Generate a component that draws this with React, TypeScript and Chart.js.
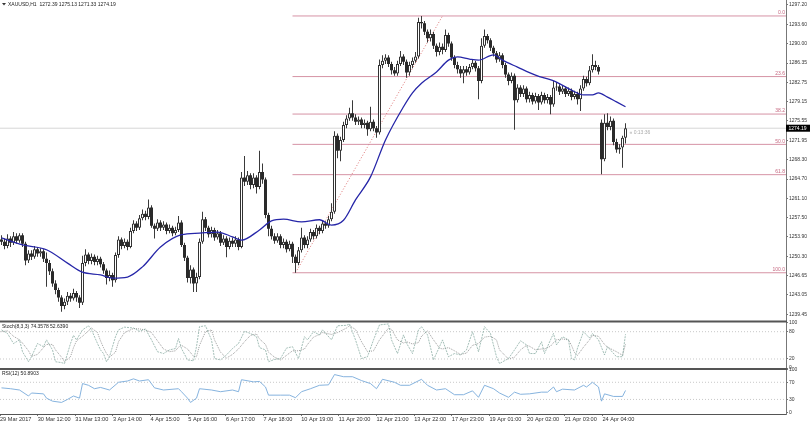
import { useEffect, useRef } from 'react';
import { Chart, registerables } from 'chart.js';
Chart.register(...registerables);

const symbolLabel = 'XAUUSD,H1';

const opens = [
  1253.4,1253.0,1252.2,1253.6,1252.8,1254.0,1253.2,1254.2,1252.6,1249.5,
  1250.8,1250.2,1251.6,1250.8,1251.2,1249.8,1249.0,1247.5,1245.2,1244.0,
  1242.6,1241.0,1241.8,1242.9,1242.4,1243.4,1242.6,1241.6,1249.0,1250.6,
  1249.4,1250.2,1249.2,1249.8,1248.8,1247.6,1246.2,1246.8,1245.8,1250.5,
  1253.4,1252.2,1253.0,1252.0,1255.0,1256.4,1255.6,1257.4,1258.2,1257.6,
  1259.4,1256.0,1255.4,1256.6,1255.6,1256.2,1255.0,1255.6,1254.6,1255.2,
  1256.6,1252.4,1250.0,1246.2,1247.8,1245.2,1246.4,1253.0,1257.2,1255.6,
  1254.4,1255.2,1253.8,1254.6,1252.8,1253.6,1252.0,1253.2,1252.6,1253.4,
  1252.0,1265.0,1264.2,1265.4,1263.6,1265.0,1263.2,1266.0,1264.6,1258.0,
  1255.4,1254.0,1253.2,1254.0,1252.4,1253.0,1251.6,1252.6,1250.2,1249.0,
  1251.4,1253.8,1252.4,1253.4,1254.8,1254.0,1255.6,1255.0,1256.4,1256.0,
  1257.2,1258.6,1272.8,1270.0,1272.0,1274.8,1276.0,1277.0,1276.2,1275.4,
  1275.8,1274.8,1275.2,1274.0,1275.4,1274.2,1273.4,1286.0,1286.8,1287.4,
  1286.2,1285.0,1284.4,1286.2,1287.6,1286.6,1284.6,1286.0,1286.8,1287.6,
  1294.0,1293.8,1292.2,1291.0,1291.8,1289.6,1288.4,1289.4,1288.8,1291.6,
  1290.0,1287.4,1286.0,1285.2,1284.4,1285.2,1284.6,1285.6,1286.4,1285.4,
  1283.0,1289.6,1291.4,1290.6,1289.2,1288.2,1287.0,1287.8,1286.0,1284.2,
  1283.0,1284.0,1279.4,1281.8,1280.6,1281.6,1279.6,1280.4,1279.2,1280.2,
  1279.0,1280.4,1279.4,1280.0,1278.6,1281.8,1282.0,1281.0,1281.6,1280.6,
  1281.2,1280.0,1280.6,1279.6,1281.6,1283.4,1282.6,1285.0,1286.0,1285.6,
  1275.2,1268.4,1275.2,1274.4,1275.6,1271.6,1270.2,1270.6,1272.39,
];

const highs = [
  1254.2,1253.6,1254.4,1254.0,1254.8,1254.6,1254.6,1254.6,1253.0,1251.4,
  1251.4,1252.2,1252.0,1251.8,1251.6,1251.0,1249.6,1248.0,1245.8,1244.4,
  1243.0,1242.4,1243.6,1243.4,1244.2,1243.8,1243.0,1250.4,1251.6,1251.0,
  1250.8,1250.6,1250.4,1250.2,1249.2,1248.0,1247.6,1247.2,1251.0,1254.0,
  1253.8,1253.6,1253.4,1255.6,1257.0,1256.8,1258.0,1259.0,1258.8,1260.9,
  1259.8,1256.4,1257.2,1257.0,1256.8,1256.6,1256.2,1256.0,1255.8,1257.8,
  1257.0,1252.8,1250.4,1248.6,1248.2,1247.2,1253.6,1258.6,1257.6,1256.0,
  1255.8,1255.6,1255.2,1255.0,1254.2,1254.0,1253.8,1253.8,1254.0,1253.8,
  1266.0,1269.0,1266.2,1265.8,1265.8,1265.4,1270.0,1267.6,1265.0,1258.4,
  1256.0,1254.6,1254.6,1254.4,1253.6,1253.4,1253.2,1253.0,1250.6,1252.0,
  1255.6,1254.2,1254.0,1255.4,1255.2,1256.2,1256.0,1257.0,1256.8,1257.8,
  1260.2,1273.6,1273.2,1272.6,1275.4,1276.6,1278.0,1279.4,1276.8,1276.4,
  1276.2,1275.8,1275.6,1278.2,1275.8,1274.6,1287.0,1287.8,1288.0,1287.8,
  1286.6,1285.6,1286.8,1288.6,1288.0,1287.0,1286.6,1287.4,1288.4,1294.8,
  1295.15,1294.2,1292.6,1292.6,1292.2,1290.0,1290.2,1290.0,1292.6,1292.0,
  1290.4,1287.8,1286.6,1285.8,1285.8,1285.8,1286.2,1287.0,1286.8,1285.8,
  1291.0,1292.6,1291.8,1291.0,1289.6,1288.6,1288.4,1288.2,1286.4,1284.6,
  1284.6,1284.4,1282.4,1282.2,1282.2,1282.0,1281.0,1280.8,1280.8,1280.6,
  1281.0,1280.8,1280.6,1280.4,1283.0,1282.8,1282.4,1282.2,1282.0,1281.8,
  1281.6,1281.2,1281.0,1282.2,1284.0,1283.8,1285.8,1288.0,1286.8,1286.0,
  1275.8,1276.8,1277.0,1276.4,1276.0,1272.2,1271.2,1272.8,1275.13,
];

const lows = [
  1252.4,1251.6,1251.8,1252.0,1252.4,1252.6,1252.8,1252.0,1248.6,1249.0,
  1249.6,1249.8,1250.2,1250.2,1249.2,1244.6,1246.8,1244.6,1243.2,1241.8,
  1239.9,1240.4,1241.2,1241.8,1242.0,1241.8,1240.6,1241.2,1248.4,1248.8,
  1248.8,1248.6,1248.6,1248.2,1247.0,1245.0,1245.6,1244.6,1245.4,1250.0,
  1251.6,1251.8,1251.4,1251.8,1254.6,1255.0,1255.2,1257.0,1257.0,1257.2,
  1255.6,1253.6,1255.0,1255.0,1255.2,1254.4,1254.6,1254.0,1254.2,1254.8,
  1252.0,1249.4,1245.4,1245.2,1243.6,1243.6,1246.0,1252.6,1255.0,1253.8,
  1253.8,1253.2,1253.4,1252.2,1252.4,1250.1,1251.6,1252.0,1252.0,1251.4,
  1251.8,1263.4,1263.6,1262.8,1263.0,1262.0,1262.8,1263.8,1257.4,1254.0,
  1253.4,1252.6,1252.8,1251.8,1251.8,1251.0,1251.2,1249.0,1247.2,1248.6,
  1251.0,1251.8,1251.8,1253.0,1253.4,1253.6,1254.4,1254.6,1255.4,1255.6,
  1256.8,1258.2,1268.6,1268.0,1271.6,1274.2,1275.6,1275.6,1274.8,1274.8,
  1274.2,1274.2,1272.8,1273.6,1273.6,1272.4,1273.0,1285.4,1286.2,1285.6,
  1284.2,1284.0,1284.0,1285.8,1286.0,1283.6,1284.0,1285.4,1286.4,1287.2,
  1292.8,1291.6,1290.2,1290.4,1289.0,1287.6,1287.8,1288.0,1288.4,1289.4,
  1286.8,1285.4,1284.4,1283.6,1282.6,1284.0,1284.2,1285.2,1284.8,1279.6,
  1282.6,1289.2,1290.0,1288.6,1287.6,1286.4,1286.6,1285.4,1283.6,1282.2,
  1282.6,1273.9,1279.0,1280.0,1280.0,1279.0,1279.0,1278.6,1278.8,1277.6,
  1278.6,1278.8,1278.8,1276.8,1278.2,1281.2,1280.4,1280.6,1280.0,1280.2,
  1279.4,1279.6,1278.6,1277.4,1281.2,1282.0,1282.2,1284.6,1285.0,1284.2,
  1265.6,1268.0,1273.8,1273.8,1271.0,1269.6,1269.4,1266.8,1271.33,
];

const closes = [
  1253.0,1252.2,1253.6,1252.8,1254.0,1253.2,1254.2,1252.6,1249.5,1250.8,
  1250.2,1251.6,1250.8,1251.2,1249.8,1249.0,1247.5,1245.2,1244.0,1242.6,
  1241.0,1241.8,1242.9,1242.4,1243.4,1242.6,1241.6,1249.0,1250.6,1249.4,
  1250.2,1249.2,1249.8,1248.8,1247.6,1246.2,1246.8,1245.8,1250.5,1253.4,
  1252.2,1253.0,1252.0,1255.0,1256.4,1255.6,1257.4,1258.2,1257.6,1259.4,
  1256.0,1255.4,1256.6,1255.6,1256.2,1255.0,1255.6,1254.6,1255.2,1256.6,
  1252.4,1250.0,1246.2,1247.8,1245.2,1246.4,1253.0,1257.2,1255.6,1254.4,
  1255.2,1253.8,1254.6,1252.8,1253.6,1252.0,1253.2,1252.6,1253.4,1252.0,
  1265.0,1264.2,1265.4,1263.6,1265.0,1263.2,1266.0,1264.6,1258.0,1255.4,
  1254.0,1253.2,1254.0,1252.4,1253.0,1251.6,1252.6,1250.2,1249.0,1251.4,
  1253.8,1252.4,1253.4,1254.8,1254.0,1255.6,1255.0,1256.4,1256.0,1257.2,
  1258.6,1272.8,1270.0,1272.0,1274.8,1276.0,1277.0,1276.2,1275.4,1275.8,
  1274.8,1275.2,1274.0,1275.4,1274.2,1273.4,1286.0,1286.8,1287.4,1286.2,
  1285.0,1284.4,1286.2,1287.6,1286.6,1284.6,1286.0,1286.8,1287.6,1294.0,
  1293.8,1292.2,1291.0,1291.8,1289.6,1288.4,1289.4,1288.8,1291.6,1290.0,
  1287.4,1286.0,1285.2,1284.4,1285.2,1284.6,1285.6,1286.4,1285.4,1283.0,
  1289.6,1291.4,1290.6,1289.2,1288.2,1287.0,1287.8,1286.0,1284.2,1283.0,
  1284.0,1279.4,1281.8,1280.6,1281.6,1279.6,1280.4,1279.2,1280.2,1279.0,
  1280.4,1279.4,1280.0,1278.6,1281.8,1282.0,1281.0,1281.6,1280.6,1281.2,
  1280.0,1280.6,1279.6,1281.6,1283.4,1282.6,1285.0,1286.0,1285.6,1284.8,
  1268.4,1275.2,1274.4,1275.6,1271.6,1270.2,1270.6,1272.39,1274.19,
];

// Moving average (blue line), read at selected bars
const maAt = [0,7,15,22,27,33,37,42,47,53,60,66,72,77,80,86,90,94,100,106,110,114,118,123,128,134,137,140,145,149,152,156,159,164,167,172,178,185,190,194,197,199,202,205,208];
const maValues = [1253.7,1252.4,1251.5,1249.0,1247.3,1246.8,1246.2,1246.4,1248.3,1252.0,1254.3,1254.6,1254.8,1253.9,1253.3,1255.2,1256.9,1257.2,1256.7,1257.1,1256.1,1257.0,1260.8,1265.1,1272.0,1278.2,1280.8,1282.6,1284.7,1286.9,1287.5,1287.1,1286.9,1287.9,1286.9,1285.6,1284.1,1282.8,1281.3,1280.4,1280.4,1280.8,1280.0,1279.1,1278.2];

// Stochastic (8,3,3)
const stochAt = [0,2,4,6,7,9,10,12,14,15,17,18,20,21,23,24,25,27,29,30,32,33,34,35,36,38,39,41,44,46,48,50,52,54,56,58,59,60,62,64,65,66,68,70,71,73,75,77,79,81,83,85,86,88,89,91,93,95,97,99,101,102,104,106,107,110,112,115,116,118,120,122,124,126,129,130,132,134,135,137,139,140,142,144,146,147,149,151,153,155,157,159,161,163,165,166,169,171,173,175,176,178,180,181,183,184,185,187,189,190,191,192,194,196,197,199,201,202,205,207,208];
const stochMain = [84,76,54,62,36,14,25,54,47,62,40,14,12,10,54,72,62,84,93,84,54,40,32,14,25,69,84,90,88,81,86,62,36,32,40,43,65,43,18,16,47,91,93,62,21,18,29,43,54,81,76,69,45,40,14,19,21,44,47,21,69,62,80,73,84,62,93,94,97,62,21,25,62,95,97,62,32,73,55,32,84,91,73,18,47,62,25,32,29,40,80,36,91,76,25,10,21,40,60,51,32,32,58,32,62,76,51,69,62,21,18,44,80,66,76,62,29,47,25,25,74.36];
const stochSignal = [80,82,70,62,55,38,26,30,45,52,52,40,24,14,25,45,60,70,82,88,78,60,45,32,24,35,58,78,87,86,84,78,60,42,36,38,46,50,42,26,25,50,80,84,62,35,22,30,42,58,72,75,64,52,35,24,18,28,38,38,42,52,68,74,78,74,78,88,93,85,58,36,38,62,88,85,62,55,58,53,56,70,82,62,44,42,45,38,30,33,50,54,68,70,62,40,20,24,40,50,48,40,42,42,48,56,62,64,62,50,34,28,46,62,72,70,52,46,36,28,52.64];
const stochLabel = 'Stoch(8,3,3) 74.3578 52.6390';

// RSI (12)
const rsiAt = [0,3,6,9,10,14,15,17,20,22,24,26,27,29,31,33,36,39,42,44,46,49,51,54,59,60,62,63,65,66,70,73,77,79,80,84,86,88,89,93,96,98,100,103,106,109,111,114,117,120,123,125,127,131,133,136,140,142,145,148,151,154,157,159,161,164,166,169,171,173,176,180,182,184,185,187,191,194,195,197,199,200,201,204,207,208];
const rsiValues = [57,55,52,38,45,43,33,26,23,30,38,33,67,63,55,58,52,70,73,78,73,76,57,52,55,48,33,23,33,55,52,48,52,48,76,71,72,59,40,40,40,34,48,55,63,64,88,83,83,74,67,55,77,70,63,63,77,63,52,55,41,41,50,35,63,55,45,35,47,42,43,47,47,59,48,54,52,63,59,70,59,26,43,37,37,50.89];
const rsiLabel = 'RSI(12) 50.8903';

// Fibonacci retracement
const fibLevels = [0, 23.6, 38.2, 50, 61.8, 100];
const fibHigh = 1295.15;
const fibLow = 1247.2;
const fibLowAt = 98;
const fibHighAt = 147;

// Axes
const priceTicks = [1297.20,1293.60,1290.00,1286.35,1282.75,1279.15,1275.55,1271.95,1268.30,1264.70,1261.10,1257.50,1253.90,1250.30,1246.65,1243.05,1239.45];
const stochTicks = [0, 20, 80, 100];
const stochLevels = [20, 80];
const rsiTicks = [0, 30, 70, 100];
const rsiLevels = [30, 70];
const timeLabels = ['29 Mar 2017','30 Mar 12:00','31 Mar 13:00','3 Apr 14:00','4 Apr 15:00','5 Apr 16:00','6 Apr 17:00','7 Apr 18:00','10 Apr 19:00','11 Apr 20:00','12 Apr 21:00','13 Apr 22:00','17 Apr 23:00','19 Apr 01:00','20 Apr 02:00','21 Apr 03:00','24 Apr 04:00'];
const barsPerLabel = 12.55;
const timerText = '\u00AB 0:13:36';

const FONT = '"Liberation Sans", Arial, sans-serif';

export default function App() {
  const ref = useRef<HTMLCanvasElement>(null);

  useEffect(() => {
    document.body.style.margin = '0';
    const canvas = ref.current;
    if (!canvas) return;
    const last = closes.length - 1;
    const idx = closes.map((_, i) => i);
    const xMin = -0.5;
    const xMax = 261.5;
    const isUp = (i: number) => closes[i] >= opens[i];
    const span = (v: number, from = xMin) => [{ x: from, y: v }, { x: xMax, y: v }];
    const fibPrice = (lvl: number) => fibHigh - ((fibHigh - fibLow) * lvl) / 100;
    const fibStart = Math.min(fibLowAt, fibHighAt) - 1;
    const fibColor = 'rgba(204,120,142,0.8)';

    const tickFont = { size: 5, family: FONT };
    const noPad = (s: any) => {
      s.paddingTop = 0;
      s.paddingBottom = 0;
      s.paddingLeft = 0;
      s.paddingRight = 0;
    };

    const datasets: any[] = [
      {
        type: 'bar',
        data: idx.map((i) => ({ x: i, y: [opens[i], closes[i]] })),
        yAxisID: 'y',
        grouped: false,
        barThickness: 3,
        minBarLength: 1,
        inflateAmount: 0,
        borderSkipped: false,
        backgroundColor: (c: any) => (isUp(c.dataIndex) ? '#ffffff' : '#2a2a2a'),
        borderColor: '#333333',
        borderWidth: (c: any) => (isUp(c.dataIndex) ? 1 : 0),
        order: 2,
      },
      {
        type: 'bar',
        data: idx.map((i) => ({ x: i, y: [lows[i], highs[i]] })),
        yAxisID: 'y',
        grouped: false,
        barThickness: 1,
        inflateAmount: 0,
        borderSkipped: false,
        borderWidth: 0,
        backgroundColor: '#3a3a3a',
        order: 3,
      },
      {
        type: 'line',
        data: maAt.map((x, k) => ({ x, y: maValues[k] })),
        yAxisID: 'y',
        borderColor: '#2626a8',
        borderWidth: 1.3,
        pointRadius: 0,
        cubicInterpolationMode: 'monotone',
        order: 1,
      },
      {
        type: 'line',
        data: span(closes[last]),
        yAxisID: 'y',
        borderColor: '#d6d6d6',
        borderWidth: 1,
        pointRadius: 0,
        order: 12,
      },
      ...fibLevels.map((lvl) => ({
        type: 'line',
        data: span(fibPrice(lvl), fibStart),
        yAxisID: 'y',
        borderColor: fibColor,
        borderWidth: 1,
        pointRadius: 0,
        order: 10,
      })),
      {
        type: 'line',
        data: [
          { x: fibLowAt, y: fibLow },
          { x: fibHighAt, y: fibHigh },
        ],
        yAxisID: 'y',
        borderColor: 'rgba(210,70,70,0.75)',
        borderWidth: 1,
        borderDash: [1, 2],
        pointRadius: 0,
        order: 11,
      },
      ...stochLevels.map((v) => ({
        type: 'line',
        data: span(v),
        yAxisID: 'yStoch',
        borderColor: '#c8c8c8',
        borderWidth: 1,
        borderDash: [1, 2],
        pointRadius: 0,
        order: 10,
      })),
      {
        type: 'line',
        data: stochAt.map((x, k) => ({ x, y: stochSignal[k] })),
        yAxisID: 'yStoch',
        borderColor: '#9c9c9c',
        borderWidth: 1,
        borderDash: [1, 1],
        pointRadius: 0,
        order: 5,
      },
      {
        type: 'line',
        data: stochAt.map((x, k) => ({ x, y: stochMain[k] })),
        yAxisID: 'yStoch',
        borderColor: 'rgba(120,160,150,0.85)',
        borderWidth: 0.8,
        borderDash: [2, 1],
        pointRadius: 0,
        order: 4,
      },
      ...rsiLevels.map((v) => ({
        type: 'line',
        data: span(v),
        yAxisID: 'yRsi',
        borderColor: '#c8c8c8',
        borderWidth: 1,
        borderDash: [1, 2],
        pointRadius: 0,
        order: 10,
      })),
      {
        type: 'line',
        data: rsiAt.map((x, k) => ({ x, y: rsiValues[k] })),
        yAxisID: 'yRsi',
        borderColor: 'rgb(120,170,218)',
        borderWidth: 0.9,
        pointRadius: 0,
        order: 4,
      },
    ];

    const overlay = {
      id: 'overlay',
      afterDraw(chart: any) {
        const ctx = chart.ctx;
        const area = chart.chartArea;
        const sy = chart.scales.y;
        const ss = chart.scales.yStoch;
        const sr = chart.scales.yRsi;
        const sx = chart.scales.x;
        ctx.save();
        // panel separators
        ctx.strokeStyle = '#555555';
        ctx.lineWidth = 2;
        [ss.top, sr.top].forEach((yy: number) => {
          ctx.beginPath();
          ctx.moveTo(area.left, yy);
          ctx.lineTo(area.right + 1, yy);
          ctx.stroke();
        });
        // title
        ctx.fillStyle = '#333333';
        ctx.beginPath();
        ctx.moveTo(2, 3);
        ctx.lineTo(6, 3);
        ctx.lineTo(4, 5.5);
        ctx.closePath();
        ctx.fill();
        ctx.font = `5px ${FONT}`;
        ctx.textBaseline = 'middle';
        ctx.textAlign = 'left';
        ctx.fillStyle = '#222222';
        ctx.fillText(
          `${symbolLabel}  ${opens[last].toFixed(2)} ${highs[last].toFixed(2)} ${lows[last].toFixed(2)} ${closes[last].toFixed(2)}`,
          8,
          4.5
        );
        ctx.fillText(stochLabel, 2, ss.top + 5);
        ctx.fillText(rsiLabel, 2, sr.top + 5);
        // fib labels
        ctx.fillStyle = 'rgb(198,104,128)';
        ctx.textAlign = 'right';
        ctx.textBaseline = 'bottom';
        fibLevels.forEach((lvl) => {
          const py = sy.getPixelForValue(fibPrice(lvl));
          ctx.fillText(lvl.toFixed(1), area.right - 1, py - 0.5);
        });
        // current price box
        const cy = sy.getPixelForValue(closes[last]);
        ctx.fillStyle = '#000000';
        ctx.fillRect(area.right, cy - 3.5, 24, 7);
        ctx.fillStyle = '#ffffff';
        ctx.textAlign = 'left';
        ctx.textBaseline = 'middle';
        ctx.fillText(closes[last].toFixed(2), area.right + 2.5, cy + 0.2);
        // timer
        ctx.fillStyle = '#aaaaaa';
        ctx.fillText(timerText, sx.getPixelForValue(last) + 4, cy + 4.5);
        ctx.restore();
      },
    };

    const yCommon = (ticksArr: number[], fmt: (v: number) => string) => ({
      type: 'linear',
      position: 'right',
      stack: 'panes',
      afterBuildTicks: (s: any) => {
        s.ticks = ticksArr.map((v) => ({ value: v }));
      },
      afterFit: (s: any) => {
        s.width = 24;
        noPad(s);
      },
      ticks: {
        callback: (v: any) => fmt(Number(v)),
        autoSkip: false,
        padding: 1,
        font: tickFont,
        color: '#333333',
      },
      grid: { drawOnChartArea: false, tickLength: 2, color: '#777777' },
      border: { display: true, color: '#777777' },
    });

    const chart = new Chart(canvas, {
      type: 'bar',
      data: { datasets },
      options: {
        responsive: false,
        animation: false,
        devicePixelRatio: 1,
        events: [],
        layout: { padding: 0 },
        plugins: { legend: { display: false }, tooltip: { enabled: false } },
        scales: {
          x: {
            type: 'linear',
            position: 'bottom',
            min: xMin,
            max: xMax,
            offset: false,
            afterBuildTicks: (s: any) => {
              s.ticks = timeLabels.map((_, k) => ({ value: k * barsPerLabel - 0.5 }));
            },
            afterFit: (s: any) => {
              s.height = 10;
              noPad(s);
            },
            ticks: {
              callback: (_v: any, i: number) => timeLabels[i],
              align: 'start',
              autoSkip: false,
              maxRotation: 0,
              minRotation: 0,
              padding: 0,
              font: { size: 5.6, family: FONT },
              color: '#333333',
            },
            grid: { drawOnChartArea: false, tickLength: 2, color: '#777777', offset: false },
            border: { display: true, color: '#555555', width: 1 },
          },
          y: {
            ...yCommon(priceTicks, (v) => v.toFixed(2)),
            stackWeight: 321.5,
            min: 1238.1,
            max: 1298.13,
          },
          yStoch: {
            ...yCommon(stochTicks, (v) => String(v)),
            stackWeight: 47.5,
            min: -2,
            max: 102.4,
          },
          yRsi: {
            ...yCommon(rsiTicks, (v) => String(v)),
            stackWeight: 45,
            min: -4,
            max: 101,
          },
        },
      } as any,
      plugins: [overlay],
    });

    return () => chart.destroy();
  }, []);

  return (
    <div style={{ width: 810, height: 424, background: '#ffffff' }}>
      <canvas ref={ref} width={810} height={424} style={{ display: 'block' }} />
    </div>
  );
}
